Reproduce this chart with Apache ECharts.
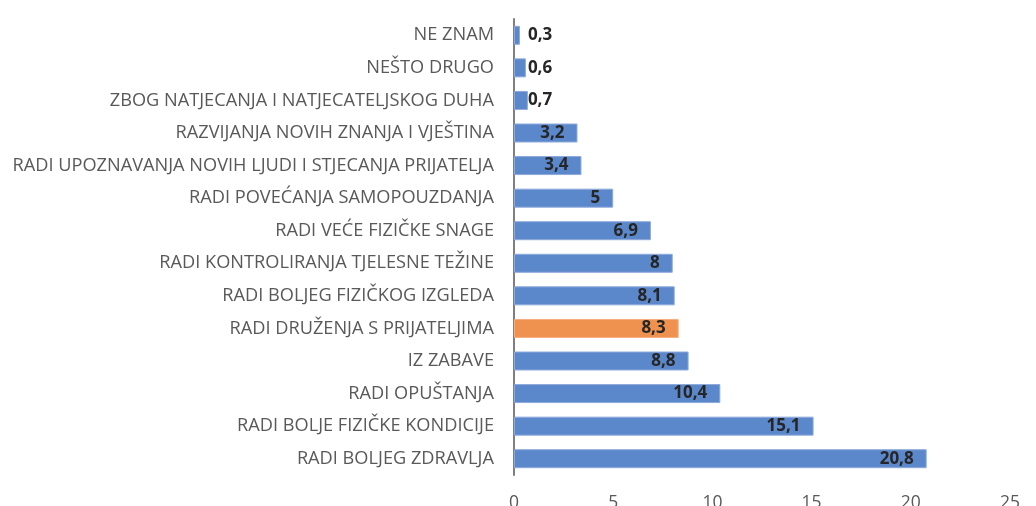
<!DOCTYPE html>
<html>
<head>
<meta charset="utf-8">
<script src="https://cdn.jsdelivr.net/npm/echarts@6/dist/echarts.min.js"></script>
<style>html,body{margin:0;padding:0;background:#fff;}#c{width:1036px;height:506px;}</style>
</head>
<body>
<div id="c"></div>
<script>
// top to bottom
const categories = [
  "NE ZNAM",
  "NEŠTO DRUGO",
  "ZBOG NATJECANJA I NATJECATELJSKOG DUHA",
  "RAZVIJANJA NOVIH ZNANJA I VJEŠTINA",
  "RADI UPOZNAVANJA NOVIH LJUDI I STJECANJA PRIJATELJA",
  "RADI POVEĆANJA SAMOPOUZDANJA",
  "RADI VEĆE FIZIČKE SNAGE",
  "RADI KONTROLIRANJA TJELESNE TEŽINE",
  "RADI BOLJEG FIZIČKOG IZGLEDA",
  "RADI DRUŽENJA S PRIJATELJIMA",
  "IZ ZABAVE",
  "RADI OPUŠTANJA",
  "RADI BOLJE FIZIČKE KONDICIJE",
  "RADI BOLJEG ZDRAVLJA"
];
const values = [0.3, 0.6, 0.7, 3.2, 3.4, 5, 6.9, 8, 8.1, 8.3, 8.8, 10.4, 15.1, 20.8];
const highlighted = "RADI DRUŽENJA S PRIJATELJIMA";
const xTicks = [0, 5, 10, 15, 20, 25];

const BLUE = '#5b87cb', ORANGE = '#ef914f';
const FONT = 'Open Sans';
const outsideDist = {0: 8, 1: 2, 2: 0};

const data = values.map((v, i) => {
  const isHi = categories[i] === highlighted;
  const small = v < 1;
  return {
    value: v,
    itemStyle: {
      color: isHi ? ORANGE : BLUE,
      borderColor: isHi ? '#f5b07e' : '#8eaadc',
      borderWidth: 1
    },
    label: small ? {position: 'right', distance: outsideDist[i] !== undefined ? outsideDist[i] : 4}
                 : {position: 'insideRight', distance: 13}
  };
});

const chart = echarts.init(document.getElementById('c'), null, {renderer: 'canvas'});
chart.setOption({
  animation: false,
  grid: {left: 514, right: 26, top: 19, bottom: 31, containLabel: false, outerBoundsMode: 'none'},
  xAxis: {
    type: 'value', min: xTicks[0], max: xTicks[xTicks.length - 1], interval: 5,
    axisLine: {show: false}, axisTick: {show: false}, splitLine: {show: false},
    axisLabel: {color: '#595959', fontFamily: FONT, fontSize: 17.5, margin: 19}
  },
  yAxis: {
    type: 'category', data: categories, inverse: true,
    axisLine: {show: true, lineStyle: {color: '#7f7f7f', width: 2}},
    axisTick: {show: false},
    axisLabel: {color: '#595959', fontFamily: FONT, fontSize: 18.2, margin: 20}
  },
  series: [{
    type: 'bar', data: data, barWidth: 19,
    label: {
      show: true, fontFamily: FONT, fontSize: 17, fontWeight: 'bold', color: '#262626',
      formatter: p => String(p.value).replace('.', ',')
    }
  }]
});
</script>
</body>
</html>
